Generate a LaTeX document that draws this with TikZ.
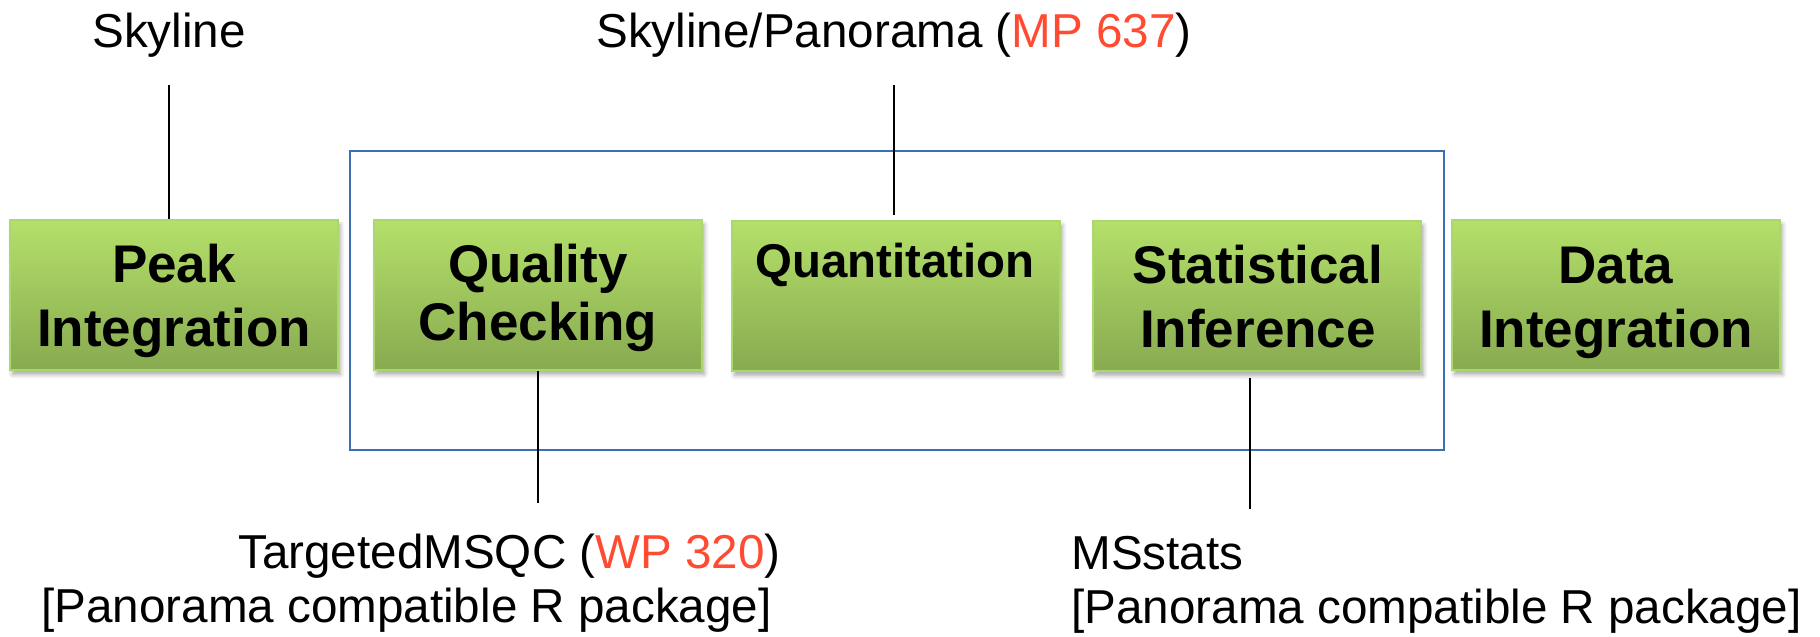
\documentclass[tikz,border=0pt]{standalone}
\usepackage{fontspec}
\setmainfont{Liberation Sans}
\usetikzlibrary{calc,positioning,shadows.blur}
\definecolor{boxtop}{RGB}{180,224,106}
\definecolor{boxbot}{RGB}{136,170,80}
\definecolor{boxline}{RGB}{172,214,112}
\definecolor{frameblue}{RGB}{60,110,180}
\definecolor{wpred}{RGB}{255,75,50}
\newcommand{\hl}[1]{\textcolor{wpred}{#1}}

\begin{document}
\begin{tikzpicture}[x=0.5pt,y=-0.5pt,
    stage/.style={draw=boxline,line width=0.8pt,top color=boxtop,bottom color=boxbot,
      minimum width=164pt,minimum height=75pt,inner sep=0pt,
      blur shadow={shadow xshift=1.2pt,shadow yshift=-2.2pt,shadow blur steps=6,shadow opacity=35}},
    stagetxt/.style={align=center,inner sep=0pt,anchor=base,font=\fontsize{26.5}{32}\selectfont\bfseries},
    tool/.style={inner sep=0pt,font=\fontsize{23.8}{27}\selectfont},
    link/.style={line width=1pt}]
    \useasboundingbox (0,0) rectangle (1820,637);
    \pgfmathsetmacro{\ybox}{295}

    \draw[frameblue,line width=1.2pt] (350,151) rectangle (1444,450);

    \node[stage] (peak) at (174,\ybox) {};
    \node[stage] (qc) at (538,\ybox) {};
    \node[stage] (quant) at (896,\ybox+1) {};
    \node[stage] (stat) at (1257,\ybox+1) {};
    \node[stage] (data) at (1616,\ybox) {};

    % base = last line
    \node[stagetxt] (peaktxt) at (174,346) {Peak\\Integration};
    \node[stagetxt] (qctxt) at (538,340) {Quality\\[-3pt]Checking};
    \node[stagetxt,font=\fontsize{23.7}{28}\selectfont\bfseries] (quanttxt) at (895,277) {Quantitation};
    \node[stagetxt] (stattxt) at (1258,347) {Statistical\\Inference};
    \node[stagetxt] (datatxt) at (1616,347) {Data\\Integration};

    \node[tool,anchor=base] (sky) at (169,47) {Skyline};
    \node[tool,anchor=base] (pano) at (894,47) {Skyline/Panorama (\hl{MP 637})};
    \node[tool,anchor=base east,align=right] (msqc) at (781,622)
      {TargetedMSQC (\hl{WP 320})\\{[Panorama compatible R package]}\hspace*{4.5pt}};
    \node[tool,anchor=base west,align=left] (msstat) at (1071,623)
      {MSstats\\{[Panorama compatible R package]}};

    \draw[link,shorten <=14pt] (sky.south) -- (sky.south |- peak.north);
    \draw[link,shorten <=14pt,shorten >=2.5pt] (pano.south) -- (pano.south |- quant.north);
    \draw[link,shorten >=15pt] (qc.south) -- (qc.south |- msqc.north);
    \draw[link,shorten <=3pt,shorten >=13pt] ([xshift=-3.5pt]stat.south) -- ([xshift=-3.5pt]stat.south |- msstat.north);
\end{tikzpicture}
\end{document}
